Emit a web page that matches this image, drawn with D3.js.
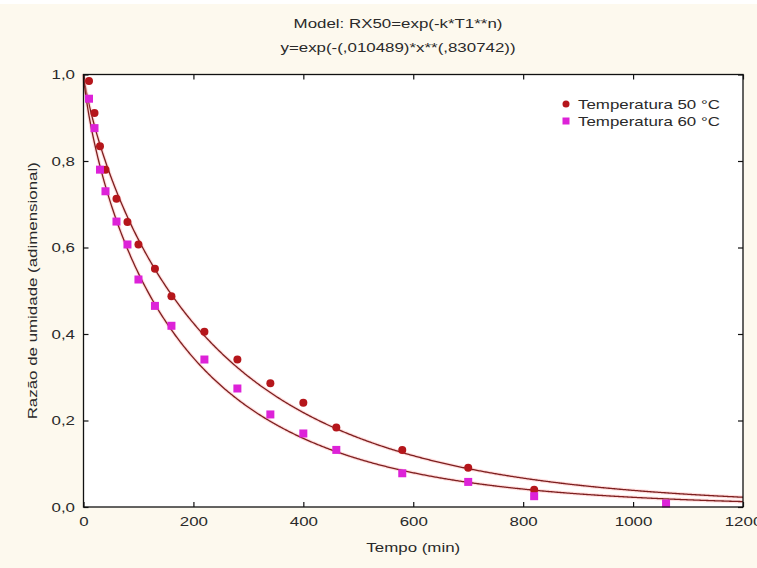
<!DOCTYPE html>
<html>
<head>
<meta charset="utf-8">
<script src="https://cdn.jsdelivr.net/npm/d3@7"></script>
<style>
  html, body { margin: 0; padding: 0; background: #fdf9ee; }
  svg { display: block; }
  text { font-family: "Liberation Sans", Arial, sans-serif; fill: #2a2a2a; font-size: 13px; }
</style>
</head>
<body>
<svg id="chart" width="757" height="568"></svg>
<script>
// Moisture ratio vs drying time, two temperatures, Page model fit
const titleLines = ["Model: RX50=exp(-k*T1**n)", "y=exp(-(,010489)*x**(,830742))"];
const seriesNames = ["Temperatura 50 °C", "Temperatura 60 °C"];

const times50 = [10, 20, 30, 40, 60, 80, 100, 130, 160, 220, 280, 340, 400, 460, 580, 700, 820];
const ratio50 = [0.985, 0.911, 0.834, 0.780, 0.713, 0.659, 0.607, 0.551, 0.487, 0.405, 0.341, 0.286, 0.241, 0.184, 0.132, 0.091, 0.040];

const times60 = [10, 20, 30, 40, 60, 80, 100, 130, 160, 220, 280, 340, 400, 460, 580, 700, 820, 1060];
const ratio60 = [0.944, 0.876, 0.780, 0.730, 0.660, 0.607, 0.526, 0.465, 0.419, 0.341, 0.274, 0.214, 0.170, 0.132, 0.078, 0.058, 0.025, 0.008];

// fitted Page model parameters (k, n) per temperature
const fitK = [0.010489, 0.0162];
const fitN = [0.830742, 0.79];

const xTicks = [0, 200, 400, 600, 800, 1000, 1200];
const yTicks = [0, 0.2, 0.4, 0.6, 0.8, 1.0];

const W = 757, H = 568;
const margin = { top: 74.5, right: 14, bottom: 61, left: 83.5 };
const stretch = 1.3; // the source text is horizontally stretched

const svg = d3.select("#chart");

// thin white strip at the very top (cropped page above the figure)
svg.append("rect").attr("x", 0).attr("y", 0).attr("width", W).attr("height", 4).attr("fill", "#ffffff");

const x = d3.scaleLinear().domain([0, 1200]).range([margin.left, W - margin.right]);
const y = d3.scaleLinear().domain([0, 1]).range([H - margin.bottom, margin.top]);

svg.append("rect")
    .attr("x", x(0)).attr("y", y(1))
    .attr("width", x(1200) - x(0)).attr("height", y(0) - y(1))
    .attr("fill", "#ffffff");

// titles
svg.selectAll(".title")
    .data(titleLines)
    .join("text")
    .attr("class", "title")
    .attr("transform", (d, i) => `translate(398,${28 + i * 24}) scale(${stretch},1)`)
    .attr("text-anchor", "middle")
    .text(d => d);

// fitted curves
const curveTimes = d3.range(0, 1201, 2);
const line = d3.line().x(d => x(d[0])).y(d => y(d[1]));
fitK.forEach((k, i) => {
    const pts = curveTimes.map(t => [t, Math.exp(-k * Math.pow(t, fitN[i]))]);
    svg.append("path")
        .datum(pts)
        .attr("d", line)
        .attr("fill", "none")
        .attr("stroke", "#ffb3b3")
        .attr("stroke-opacity", 0.45)
        .attr("stroke-width", 3.5);
    svg.append("path")
        .datum(pts)
        .attr("d", line)
        .attr("fill", "none")
        .attr("stroke", "#7d1f1f")
        .attr("stroke-width", 1.3);
});

// points
const pts50 = times50.map((t, i) => ({ t, v: ratio50[i] }));
const pts60 = times60.map((t, i) => ({ t, v: ratio60[i] }));

svg.append("g")
    .selectAll("circle")
    .data(pts50)
    .join("circle")
    .attr("cx", d => x(d.t))
    .attr("cy", d => y(d.v))
    .attr("r", 4)
    .attr("fill", "#b5161b");

svg.append("g")
    .selectAll("rect")
    .data(pts60)
    .join("rect")
    .attr("x", d => x(d.t) - 4)
    .attr("y", d => y(d.v) - 4)
    .attr("width", 8)
    .attr("height", 8)
    .attr("fill", "#dd22d8");

// frame
svg.append("rect")
    .attr("x", x(0)).attr("y", y(1))
    .attr("width", x(1200) - x(0)).attr("height", y(0) - y(1))
    .attr("fill", "none")
    .attr("stroke", "#111")
    .attr("stroke-width", 1.3);

// axes, ticks inward
const tickLen = 5;
const fmtY = d => d3.format(".1f")(d).replace(".", ",");

const axB = svg.append("g").attr("transform", `translate(0,${y(0)})`)
    .call(d3.axisBottom(x).tickValues(xTicks).tickSize(-tickLen).tickPadding(10).tickFormat(d3.format("d")));
const axT = svg.append("g").attr("transform", `translate(0,${y(1)})`)
    .call(d3.axisTop(x).tickValues(xTicks).tickSize(-tickLen).tickFormat(""));
const axL = svg.append("g").attr("transform", `translate(${x(0)},0)`)
    .call(d3.axisLeft(y).tickValues(yTicks).tickSize(-tickLen).tickFormat(fmtY));
const axR = svg.append("g").attr("transform", `translate(${x(1200)},0)`)
    .call(d3.axisRight(y).tickValues(yTicks).tickSize(-tickLen).tickFormat(""));

[axB, axT, axL, axR].forEach(g => {
    g.select(".domain").remove();
    g.selectAll(".tick line").attr("stroke", "#111").attr("stroke-width", 1.2);
    g.selectAll(".tick text").attr("font-size", 13).attr("font-family", "Liberation Sans, Arial, sans-serif").attr("fill", "#2a2a2a");
});
axB.selectAll(".tick text").attr("transform", `scale(${stretch},1)`);
axL.selectAll(".tick text").attr("x", null).attr("transform", `translate(-8.5,0) scale(${stretch},1)`);

// axis titles
svg.append("text")
    .attr("transform", `translate(${(x(0) + x(1200)) / 2},552) scale(${stretch},1)`)
    .attr("text-anchor", "middle")
    .text("Tempo (min)");

svg.append("text")
    .attr("transform", `translate(37,${(y(0) + y(1)) / 2}) rotate(-90) scale(${stretch},1)`)
    .attr("text-anchor", "middle")
    .text("Razão de umidade (adimensional)");

// legend
const legend = svg.append("g").attr("transform", "translate(566,104)");
seriesNames.forEach((name, i) => {
    const row = legend.append("g").attr("transform", `translate(0,${i * 17})`);
    if (i === 0) {
        row.append("circle").attr("r", 3.5).attr("fill", "#b5161b");
    } else {
        row.append("rect").attr("x", -3.5).attr("y", -3.5).attr("width", 7).attr("height", 7).attr("fill", "#dd22d8");
    }
    row.append("text")
        .attr("transform", `translate(12,4.5) scale(${stretch},1)`)
        .text(name);
});
</script>
</body>
</html>
